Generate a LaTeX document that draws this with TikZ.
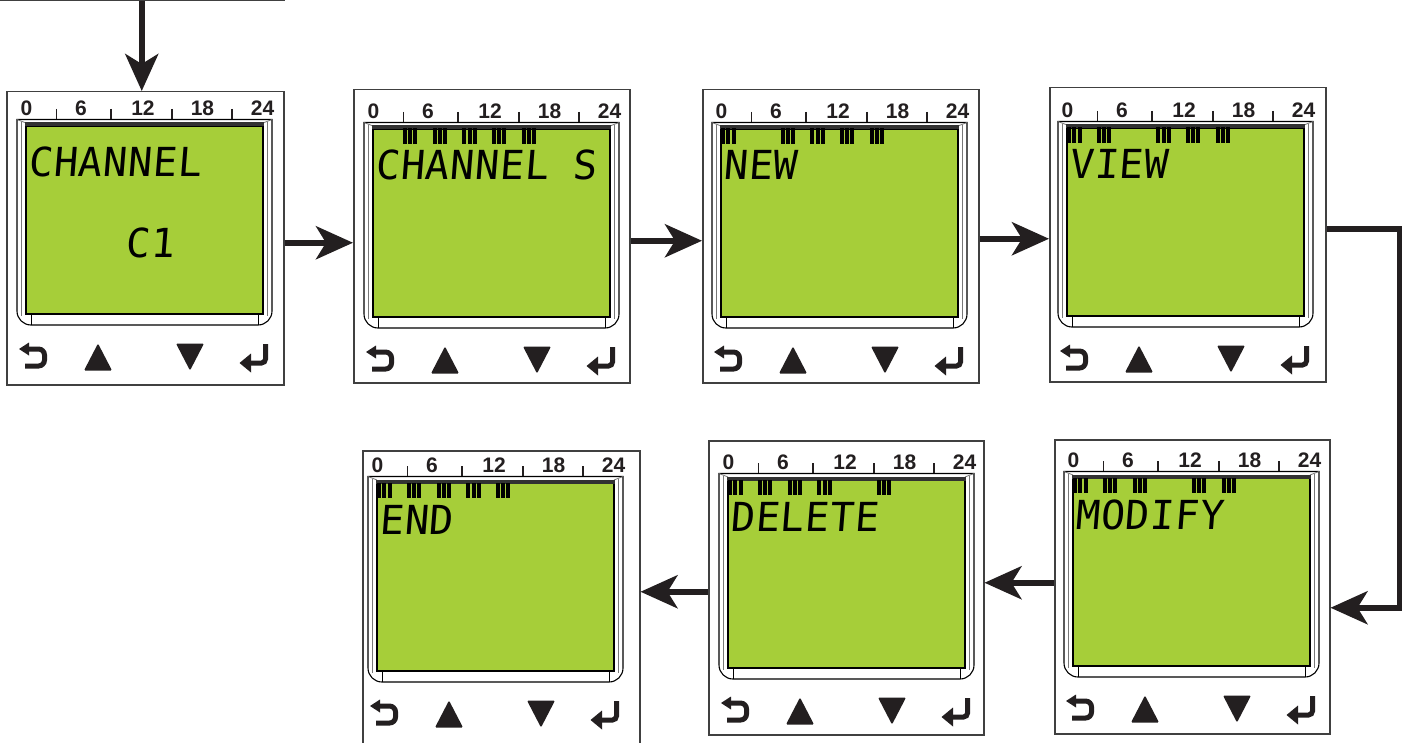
\documentclass[tikz,border=0pt]{standalone}
\usepackage{fontspec}
\setmainfont{Liberation Sans}
\newfontfamily\lcdfont[FakeSlant=0.08,LetterSpace=2]{DejaVu Sans Mono}
\usetikzlibrary{arrows.meta}
\definecolor{lcdgreen}{RGB}{166,206,57}
\definecolor{ink}{RGB}{35,31,32}
\definecolor{boxline}{RGB}{64,64,64}
\definecolor{bevelgray}{RGB}{120,120,120}
\definecolor{lcdtop}{RGB}{50,50,50}

\tikzset{
  panelbox/.style={draw=boxline, line width=1.5pt, fill=white, inner sep=0pt, anchor=north west},
  bezel/.style={draw=black, line width=1.1pt, fill=white},
  digit/.style={font=\fontsize{21}{21}\selectfont\bfseries, text=ink, inner sep=0pt},
  tickline/.style={draw=ink, line width=1.4pt},
  lcdtext/.style={font=\lcdfont\fontsize{40}{40}\selectfont, text=black, inner sep=0pt, anchor=base west},
  arr/.style={draw=ink, line width=5.8pt, -{Stealth[length=37pt,width=33pt,inset=10pt]}},
  btn/.style={fill=ink},
  btnline/.style={draw=ink, line width=5pt},
}

\newcommand\lcdscreen[3]{%
  \begin{scope}[shift={#1}, name prefix=#2-]
    \draw[bezel] (-9,-6.5) -- (-9,185) arc[start angle=180,end angle=90,radius=14] -- (232,199) arc[start angle=90,end angle=0,radius=14] -- (246,-6.5) -- cycle;
    \draw[bevelgray, line width=0.8pt] (-9,-6.5) -- (0,-3) (246,-6.5) -- (237,-3);
    \draw[bevelgray, line width=0.8pt] (-4.5,-4) -- (-4.5,190) (241.5,-4) -- (241.5,190);
    \draw[black, line width=0.8pt] (5,188) -- (5,199) (232,188) -- (232,199);
    \fill[lcdgreen] (0,0) rectangle (237,188);
    \draw[black, line width=1.6pt] (0,0) rectangle (237,188);
    \fill[lcdtop] (-0.8,-3.5) rectangle (237.8,0.5);
    \node[digit] (d0) at (0.5,-17.5) {0};
    \node[digit] (d6) at (55,-17.5) {6};
    \node[digit] (d12) at (117,-17.5) {12};
    \node[digit] (d18) at (176.5,-17.5) {18};
    \node[digit] (d24) at (236.5,-17.5) {24};
    \draw[tickline] (30.5,-17) -- (30.5,-7) (85,-17) -- (85,-7) (146,-17) -- (146,-7) (206,-17) -- (206,-7);
    \node[lcdtext] (txt) at (2,51) {#3};
    \fill[btn, rounded corners=1.2pt] (72,217.5) -- (86,244.5) -- (58,244.5) -- cycle;
    \fill[btn, rounded corners=1.2pt] (150,217.5) -- (178,217.5) -- (164,244.5) -- cycle;
    \draw[btnline, rounded corners=6pt] (2,223) -- (18.5,223) -- (18.5,240) -- (-1,240);
    \fill[btn] (-7,223) -- (3,216.5) -- (3,229.5) -- cycle;
    \draw[btnline, rounded corners=4pt] (239.5,218) -- (239.5,237) -- (223,237);
    \fill[btn] (213.5,237) -- (225,227.5) -- (225,246.5) -- cycle;
  \end{scope}}

\newcommand\lcdbars[2]{%
  \begin{scope}[shift={#1}]
    \foreach \k in {#2} {\foreach \b in {0,1,2} {\fill[black] ({\k*29.7+0.3+\b*5.1},-0.5) rectangle ++(4,15.5);}}
  \end{scope}}

\begin{document}
\begin{tikzpicture}[x=1pt,y=-1pt]
\useasboundingbox (0,0) rectangle (1412,743);
\clip (0,0) rectangle (1412,743);

% panel frames
\node[panelbox, minimum width=290pt, minimum height=100pt, anchor=south west] (prev) at (-7,1) {};
\node[panelbox, minimum width=277pt, minimum height=293pt] (p1) at (6,91) {};
\node[panelbox, minimum width=276pt, minimum height=293pt] (p2) at (353,89) {};
\node[panelbox, minimum width=276pt, minimum height=293pt] (p3) at (702,89) {};
\node[panelbox, minimum width=276pt, minimum height=294pt] (p4) at (1049,87) {};
\node[panelbox, minimum width=275pt, minimum height=294pt] (p5) at (1054,439) {};
\node[panelbox, minimum width=275pt, minimum height=294pt] (p6) at (708,440) {};
\node[panelbox, minimum width=277pt, minimum height=315pt] (p7) at (362,450) {};

% screens
\lcdscreen{(26,126)}{s1}{CHANNEL}
\node[lcdtext] (s1c1) at (125,257) {C1};
\lcdscreen{(373,129)}{s2}{CHANNEL\hspace{24pt}S}
\lcdbars{(373,129)}{1,2,3,4,5}
\lcdscreen{(721,129)}{s3}{NEW}
\lcdbars{(721,129)}{0,2,3,4,5}
\lcdscreen{(1067,128)}{s4}{VIEW}
\lcdbars{(1067,128)}{0,1,3,4,5}
\lcdscreen{(1073,478)}{s5}{MODIFY}
\lcdbars{(1073,478)}{0,1,2,4,5}
\lcdscreen{(728,480)}{s6}{DELETE}
\lcdbars{(728,480)}{0,1,2,3,5}
\lcdscreen{(377,483)}{s7}{END}
\lcdbars{(377,483)}{0,1,2,3,4}

% connectors
\draw[arr] ([xshift=-3.5pt]p1.north |- prev.south) -- ([xshift=-3.5pt]p1.north);
\draw[arr] ([yshift=-4.5pt]p1.east) -- ([yshift=-4.5pt]p1.east -| p2.west);
\draw[arr] ([yshift=-4.5pt]p2.east) -- ([yshift=-4.5pt]p2.east -| p3.west);
\draw[arr] ([yshift=-2.5pt]p3.east) -- ([yshift=-2.5pt]p3.east -| p4.west);
\draw[arr] ([yshift=6pt]p4.east) -- ++(73,0) |- ([yshift=-21pt]p5.east);
\draw[arr] ([yshift=4pt]p5.west) -- ([yshift=4pt]p5.west -| p6.east);
\draw[arr] ([yshift=-4pt]p6.west) -- ([yshift=-4pt]p6.west -| p7.east);
\end{tikzpicture}
\end{document}
